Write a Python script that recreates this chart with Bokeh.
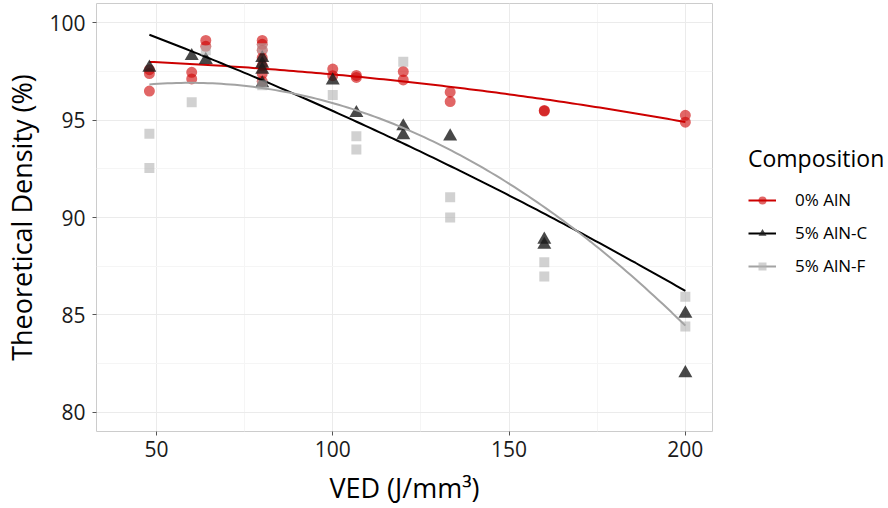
import numpy as np
from bokeh.plotting import figure
from bokeh.layouts import row
from bokeh.models import FixedTicker, Legend, LegendItem, Range1d
from bokeh.embed import file_html
from bokeh.resources import INLINE

# Theoretical density (%) against volumetric energy density (J/mm^3)
ved_aln0 = [48, 48, 48, 60, 60, 64, 64, 80, 80, 80, 80, 80, 80, 80,
            100, 100, 106.7, 106.7, 120, 120, 133.3, 133.3, 160, 160, 200, 200]
td_aln0 = [97.6, 97.4, 96.5, 97.46, 97.12, 99.1, 98.8, 99.1, 98.9, 98.6, 98.2, 97.8, 97.4, 97.0,
           97.63, 97.29, 97.3, 97.2, 97.5, 97.07, 96.44, 95.96, 95.5, 95.47, 95.25, 94.9]

ved_alnc = [48, 60, 64, 80, 80, 80, 80, 100, 106.7, 120, 120, 133.3, 160, 160, 200, 200]
td_alnc = [97.7, 98.3, 98.1, 98.2, 97.9, 97.6, 96.9, 97.05, 95.37, 94.69, 94.23, 94.17,
           88.86, 88.6, 85.06, 82.0]

ved_alnf = [48, 48, 60, 64, 80, 80, 100, 106.7, 106.7, 120, 133.3, 133.3, 160, 160, 200, 200]
td_alnf = [94.31, 92.55, 95.93, 98.6, 98.7, 96.8, 96.3, 94.17, 93.49, 98.0, 91.04, 90.0,
           87.7, 86.97, 85.93, 84.4]

# quadratic trend curves, sampled along the energy range
trend_ved = [48, 80, 100, 125, 150, 170, 200]
trend_aln0 = [98.0, 97.65, 97.35, 96.9, 96.34, 95.8, 94.91]
trend_alnc = [99.34, 97.1, 95.6, 93.29, 91.1, 89.2, 86.27]
trend_alnf = [96.83, 96.7, 95.86, 94.14, 91.8, 89.2, 84.43]

labels = ["0% AlN", "5% AlN-C", "5% AlN-F"]
line_colors = ["#CD0000", "#000000", "#A3A3A3"]
point_colors = ["#CD0000", "#1A1A1A", "#B3B3B3"]
point_alpha = [0.6, 0.8, 0.6]
markers = ["circle", "triangle", "square"]
marker_sizes = [11, 14, 10]

x_ticks = [50, 100, 150, 200]
y_ticks = [80, 85, 90, 95, 100]

FONT = "Open Sans"

p = figure(width=713, height=508, output_backend="svg", toolbar_location=None,
           x_range=Range1d(33, 207.7), y_range=Range1d(79, 101),
           min_border_left=95, min_border_right=1, min_border_top=3,
           min_border_bottom=76)
p.background_fill_color = "white"
p.border_fill_color = "white"
p.outline_line_color = "#CCCCCC"
p.outline_line_width = 1

x_ticker = FixedTicker(ticks=x_ticks, minor_ticks=[75, 125, 175])
y_ticker = FixedTicker(ticks=y_ticks, minor_ticks=[82.5, 87.5, 92.5, 97.5])
p.xaxis.ticker = x_ticker
p.yaxis.ticker = y_ticker
p.xgrid.ticker = x_ticker
p.ygrid.ticker = y_ticker
for g in (p.xgrid, p.ygrid):
    g.grid_line_color = "#EBEBEB"
    g.grid_line_width = 1
    g.minor_grid_line_color = "#F5F5F5"
    g.minor_grid_line_width = 1

for ax in (p.xaxis, p.yaxis):
    ax.axis_line_color = None
    ax.major_tick_line_color = "#555555"
    ax.major_tick_out = 4
    ax.major_tick_in = 0
    ax.minor_tick_line_color = None
    ax.major_label_text_font = FONT
    ax.major_label_text_font_size = "21px"
    ax.major_label_text_color = "#1A1A1A"
    ax.axis_label_text_font = FONT
    ax.axis_label_text_font_style = "normal"
    ax.axis_label_text_color = "#000000"

p.xaxis.axis_label = "VED (J/mm³)"
p.yaxis.axis_label = "Theoretical Density (%)"
p.xaxis.axis_label_text_font_size = "27px"
p.yaxis.axis_label_text_font_size = "27px"
p.xaxis.major_label_standoff = 5
p.yaxis.major_label_standoff = 7
p.xaxis.axis_label_standoff = 9
p.yaxis.axis_label_standoff = 6

series = [(ved_aln0, td_aln0), (ved_alnc, td_alnc), (ved_alnf, td_alnf)]
trends = [trend_aln0, trend_alnc, trend_alnf]
xs = np.linspace(trend_ved[0], trend_ved[-1], 120)
for i, (vx, vy) in enumerate(series):
    p.scatter(vx, vy, marker=markers[i], size=marker_sizes[i],
              fill_color=point_colors[i], line_color=None,
              fill_alpha=point_alpha[i])
    # smooth second-order curve through the trend samples
    coef = np.polyfit(trend_ved, trends[i], 2)
    p.line(xs, np.polyval(coef, xs), line_color=line_colors[i], line_width=2)

# key panel to the right of the chart; its glyphs share the series data but
# its own unit ranges keep them out of view, so only the legend shows
k = figure(width=175, height=508, output_backend="svg", toolbar_location=None,
           x_range=Range1d(0, 1), y_range=Range1d(0, 1), min_border=0)
k.axis.visible = False
k.grid.visible = False
k.outline_line_color = None
k.background_fill_color = "white"
k.border_fill_color = "white"

items = []
for i, (vx, vy) in enumerate(series):
    kl = k.line(vx, vy, line_color=line_colors[i], line_width=2)
    ks = k.scatter(vx, vy, marker=markers[i], size=9,
                   fill_color=point_colors[i], line_color=None,
                   fill_alpha=point_alpha[i])
    items.append(LegendItem(label=labels[i], renderers=[kl, ks]))

legend = Legend(items=items, location=(35, 154), title="Composition",
                title_text_font=FONT, title_text_font_size="23px",
                title_text_font_style="normal", title_text_color="#000000",
                title_standoff=14,
                label_text_font=FONT, label_text_font_size="17px",
                label_text_color="#000000",
                glyph_width=28, glyph_height=20, label_height=20,
                label_standoff=19, spacing=10, padding=0, margin=0,
                border_line_alpha=0, background_fill_alpha=0)
k.add_layout(legend)

layout = row(p, k)
open("out.html", "w").write(file_html(layout, INLINE))
